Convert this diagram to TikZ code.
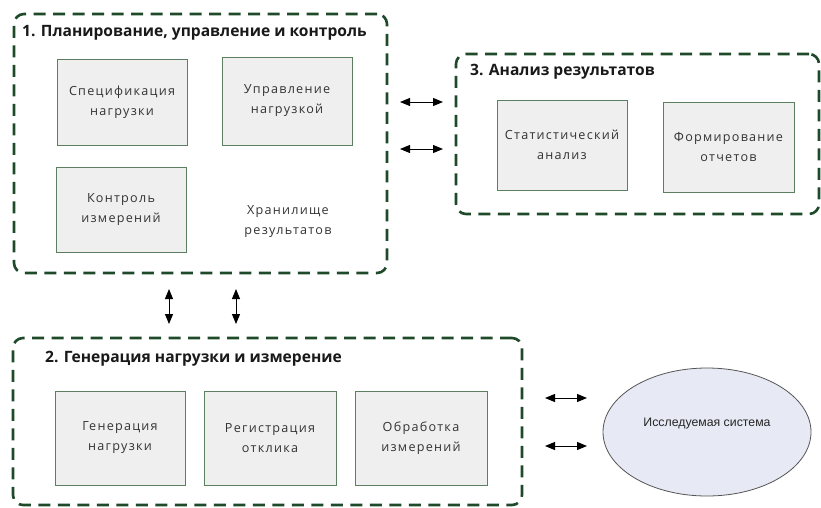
\documentclass[tikz,border=0pt]{standalone}
\usepackage{fontspec}
\setmainfont{Open Sans}
\newfontfamily\boxfont[LetterSpace=10]{Open Sans}
\newfontfamily\titlefont{Open Sans}
\newfontfamily\sysfont{Liberation Sans}
\usetikzlibrary{shapes.geometric,arrows.meta}
\definecolor{grpgreen}{HTML}{1F4A2A}
\definecolor{boxedge}{HTML}{5C7F62}
\definecolor{boxfill}{HTML}{EFEFEF}
\definecolor{sysfill}{HTML}{E7E9F4}
\definecolor{sysedge}{HTML}{555555}
\definecolor{txtgray}{HTML}{333333}
\begin{document}
\begin{tikzpicture}[x=1pt,y=-1pt,
  group/.style={draw=grpgreen,line width=2.6pt,dash pattern=on 12pt off 7.5pt,
    rounded corners=10pt,rectangle,inner sep=0pt},
  task/.style={draw=boxedge,line width=0.9pt,fill=boxfill,rectangle,inner sep=0pt,
    minimum width=130pt,align=center,text=txtgray,
    font=\boxfont\fontsize{12.6}{20}\selectfont},
  plain/.style={align=center,text=txtgray,font=\boxfont\fontsize{12.6}{20}\selectfont},
  grouptitle/.style={anchor=west,inner sep=0pt,text=black!90,
    font=\titlefont\bfseries\fontsize{15.6}{17}\selectfont},
  link/.style={line width=1pt,{Triangle[length=10pt,width=8pt]}-{Triangle[length=10pt,width=8pt]}}]
\useasboundingbox[fill=white] (0,0) rectangle (821,507);

% group frames
\node[group,minimum width=373pt,minimum height=259pt] (plan) at (200.5,143.5) {};
\node[group,minimum width=363pt,minimum height=160pt] (anal) at (637.5,134) {};
\node[group,minimum width=509pt,minimum height=167pt] (gen) at (267.5,421.5) {};

% group titles
\node[grouptitle] (plant) at (22,33) {1. Планирование, управление и контроль};
\node[grouptitle] (analt) at (470,72) {3. Анализ результатов};
\node[grouptitle] (gent) at (45,359) {2. Генерация нагрузки и измерение};

% group 1 content
\node[task,minimum height=86pt] (spec) at (122,102) {Спецификация\\нагрузки};
\node[task,minimum height=88pt] (ctrl) at (287,101) {Управление\\нагрузкой};
\node[task,minimum height=85pt] (meas) at (121,209.5) {Контроль\\измерений};
\node[plain] (store) at (288,222) {Хранилище\\результатов};

% group 3 content
\node[task,minimum height=90pt] (stat) at (562,145) {Статистический\\анализ};
\node[task,minimum width=131pt,minimum height=90pt] (rep) at (728.5,147) {Формирование\\отчетов};

% group 2 content
\node[task,minimum height=94pt] (load) at (120,438) {Генерация\\нагрузки};
\node[task,minimum width=132pt,minimum height=94pt] (resp) at (270,438) {Регистрация\\отклика};
\node[task,minimum width=132pt,minimum height=94pt] (proc) at (421,438) {Обработка\\измерений};

% system under test
\node[ellipse,draw=sysedge,line width=0.8pt,fill=sysfill,minimum width=208pt,
  minimum height=128pt,inner sep=0pt] (sys) at (707,432) {};
\node[font=\sysfont\fontsize{12.3}{14}\selectfont,text=black!85,inner sep=0pt]
  (syst) at ([yshift=8pt]sys.center) {Исследуемая система};

% exchange arrows
\coordinate (a1l) at (400,102); \coordinate (a1r) at (443,102);
\coordinate (a2l) at (400,149); \coordinate (a2r) at (443,149);
\coordinate (v1t) at (169,289); \coordinate (v1b) at (169,324);
\coordinate (v2t) at (236,289); \coordinate (v2b) at (236,324);
\coordinate (s1l) at (545,398); \coordinate (s1r) at (587,398);
\coordinate (s2l) at (545,446); \coordinate (s2r) at (587,446);
\draw[link] (a1l) -- (a1r);
\draw[link] (a2l) -- (a2r);
\draw[link] (v1t) -- (v1b);
\draw[link] (v2t) -- (v2b);
\draw[link] (s1l) -- (s1r);
\draw[link] (s2l) -- (s2r);
\end{tikzpicture}
\end{document}
